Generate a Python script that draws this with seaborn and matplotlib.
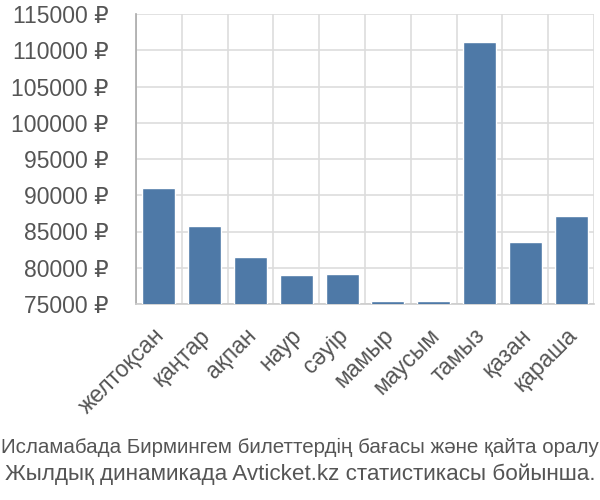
import matplotlib
matplotlib.use("Agg")
import matplotlib.pyplot as plt
import matplotlib.transforms as mtransforms
import seaborn as sns
import numpy as np
import pandas as pd

months = ["желтоқсан", "қаңтар", "ақпан", "наур", "сәуір", "мамыр",
          "маусым", "тамыз", "қазан", "қараша"]
prices = [91000, 85800, 81500, 79000, 79100, 75400, 75400, 111100, 83500, 87200]
yticks = [75000, 80000, 85000, 90000, 95000, 100000, 105000, 110000, 115000]
caption = ["Исламабада Бирмингем билеттердің бағасы және қайта оралу",
           "Жылдық динамикада Avticket.kz статистикасы бойынша."]

sns.set_theme(style="white")
plt.rcParams['font.family'] = ['Liberation Sans', 'DejaVu Sans']

df = pd.DataFrame({"month": months, "price": prices})

fig = plt.figure(figsize=(6, 5), dpi=100)
ax = fig.add_axes([136/600, 1 - 304/500, (594-136)/600, (304-14)/500])

sns.barplot(data=df, x="month", y="price", color="#4e79a7", saturation=1,
            width=0.72, ax=ax, zorder=3)

ax.set_ylim(75000, 115000)
ax.set_xlim(-0.5, len(months) - 0.5)
ax.set_yticks(yticks)
ax.set_yticklabels([f"{v} ₽" for v in yticks], color="#555555", fontsize=16.5)

ax.set_xticks(range(len(months)))
ax.set_xticklabels(months, rotation=45, ha="right", rotation_mode="anchor",
                   color="#555555", fontsize=16.5)
ax.tick_params(axis="x", which="major", length=0, pad=10)
offset = mtransforms.ScaledTranslation(-6/100, -6/100, fig.dpi_scale_trans)
for lab in ax.get_xticklabels():
    lab.set_transform(lab.get_transform() + offset)
ax.set_xticks(np.arange(-0.5, len(months), 1), minor=True)
ax.tick_params(axis="x", which="minor", length=18, color="#dddddd", width=1.2)
ax.tick_params(axis="y", which="major", length=19, color="#dddddd", width=1.2, pad=1)

ax.grid(axis="y", which="major", color="#dddddd", linewidth=1.2, zorder=0)
ax.grid(axis="x", which="minor", color="#dddddd", linewidth=1.2, zorder=0)
ax.grid(axis="x", which="major", visible=False)

for s in ["top", "right"]:
    ax.spines[s].set_visible(False)
ax.spines["left"].set_color("#aaaaaa")
ax.spines["bottom"].set_color("#cccccc")
ax.spines["left"].set_linewidth(1.2)
ax.spines["bottom"].set_linewidth(1.2)
ax.set_xlabel("")
ax.set_ylabel("")

fig.text(0.5, 1 - 447/500, caption[0], ha="center", va="center",
         color="#555555", fontsize=14.8)
fig.text(0.5, 1 - 474/500, caption[1], ha="center", va="center",
         color="#555555", fontsize=16.2)

fig.savefig("out.png", dpi=100)
